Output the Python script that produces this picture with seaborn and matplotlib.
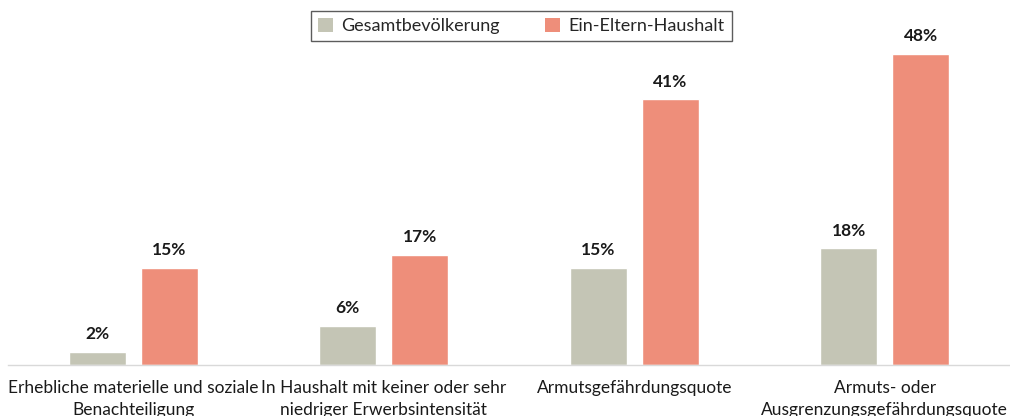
import matplotlib
matplotlib.use("Agg")
import matplotlib.pyplot as plt
import seaborn as sns
import pandas as pd

categories = ["Erhebliche materielle und soziale\nBenachteiligung",
              "In Haushalt mit keiner oder sehr\nniedriger Erwerbsintensität",
              "Armutsgefährdungsquote",
              "Armuts- oder\nAusgrenzungsgefährdungsquote"]
series_names = ["Gesamtbevölkerung", "Ein-Eltern-Haushalt"]
gesamt = [2, 6, 15, 18]
ein_eltern = [15, 17, 41, 48]
colors = ["#C4C5B5", "#EE8E7A"]

df = pd.DataFrame({
    "Kategorie": categories * 2,
    "Gruppe": [series_names[0]] * 4 + [series_names[1]] * 4,
    "Wert": gesamt + ein_eltern,
})

sns.set_theme(style="white")
plt.rcParams['font.family'] = ['Lato', 'DejaVu Sans']

W, H = 1010, 416
fig = plt.figure(figsize=(W / 100, H / 100), dpi=100)
base_y = 365
ppu = 6.48
ytop = 55
ax = fig.add_axes([8 / W, (H - base_y) / H, (W - 8) / W, ytop * ppu / H])

sns.barplot(data=df, x="Kategorie", y="Wert", hue="Gruppe", palette=colors,
            width=0.574, gap=0.21, ax=ax, legend=False, saturation=1)
ax.set_ylim(0, ytop)
ax.set_xlim(-0.5, 3.5)

for cont in ax.containers:
    ax.bar_label(cont, labels=[f"{v:.0f}%" for v in cont.datavalues],
                 padding=7, fontsize=12.5, fontweight="bold", color="#1a1a1a")

for s in ["top", "right", "left"]:
    ax.spines[s].set_visible(False)
ax.spines["bottom"].set_color("#D9D9D9")
ax.spines["bottom"].set_linewidth(1)
ax.set_yticks([])
ax.set_xlabel("")
ax.set_ylabel("")
ax.tick_params(axis="x", length=0, pad=11, labelsize=12.5, labelcolor="#1a1a1a")
for t in ax.get_xticklabels():
    t.set_linespacing(1.45)

from matplotlib.patches import Patch
handles = [Patch(facecolor=c, edgecolor="none") for c in colors]
leg = fig.legend(handles, series_names, loc="center", bbox_to_anchor=(521.5 / W, 1 - 26 / H),
                 ncol=2, frameon=True, fontsize=13, handlelength=0.8, handleheight=0.8,
                 handletextpad=0.5, columnspacing=2.5, borderpad=0.4, fancybox=False)
leg.get_frame().set_edgecolor("#333333")
leg.get_frame().set_linewidth(1)

fig.savefig("out.png", dpi=100)
